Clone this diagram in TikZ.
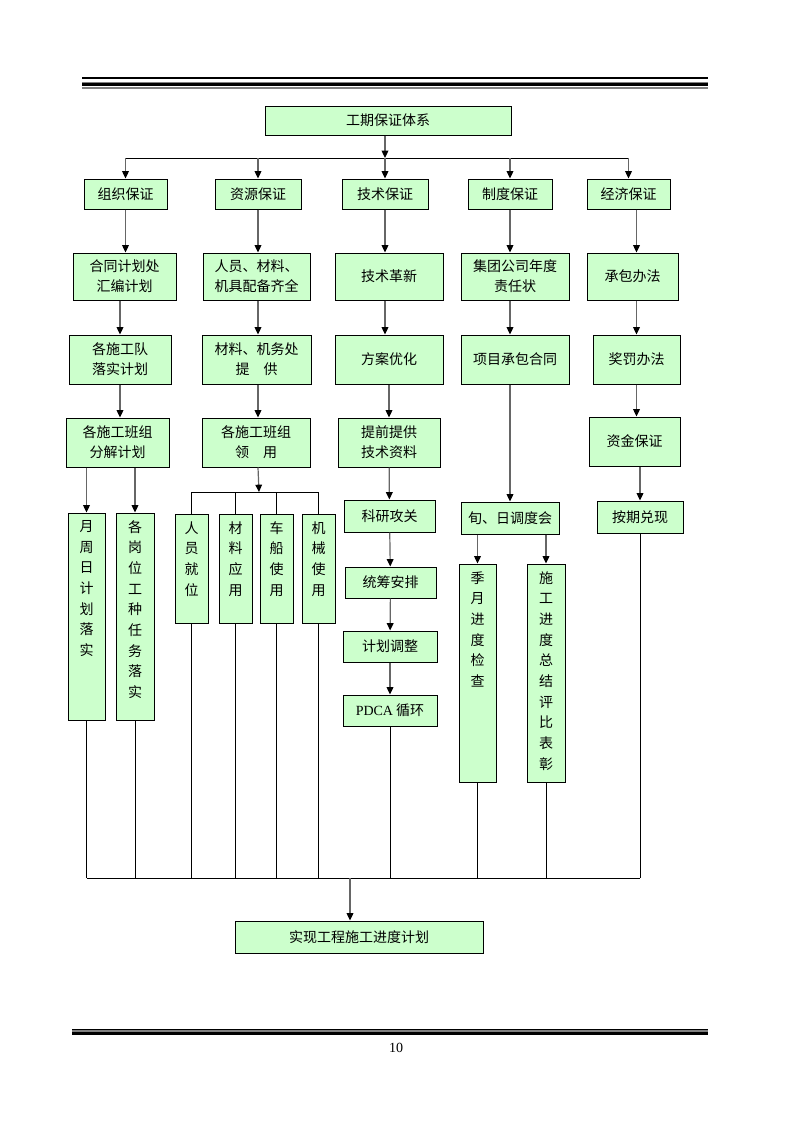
\documentclass[tikz,border=0pt]{standalone}
\usepackage{fontspec}
\setmainfont{Liberation Serif}
\newfontfamily\cjk{Noto Sans CJK SC}
\usepackage{tikz}
\usetikzlibrary{arrows.meta}
\definecolor{boxgreen}{HTML}{CCFFCC}
\definecolor{rulegray}{HTML}{808080}
\newcommand{\vtext}[2]{\parbox[c][#1][t]{1.2em}{\centering\baselineskip=15.5pt\vspace*{5.5pt}#2}}

\begin{document}
\begin{tikzpicture}[
    x=0.75pt, y=-0.75pt,
    every node/.style={font=\cjk\fontsize{10.5}{15}\selectfont},
    box/.style={
        rectangle,
        draw=black,
        fill=boxgreen,
        line width=0.75pt,
        inner sep=0pt,
        align=center
    },
    vbox/.style={box},
    arrow/.style={line width=0.9pt, draw=black!60, -{Triangle[length=5.5pt, width=5pt, color=black]}},
    link/.style={line width=0.6pt, draw=black}
]
\useasboundingbox (0,0) rectangle (793,1122);

% page rules
\fill (82,77.4) rectangle (708,78.7);
\fill[rulegray] (82,82) rectangle (708,82.8);
\fill (82,82.8) rectangle (708,86);
\fill[rulegray] (82,86.6) rectangle (708,88.8);
\fill (72,1029) rectangle (708,1030);
\fill[rulegray] (72,1030.2) rectangle (708,1031.6);
\fill (72,1031.8) rectangle (708,1035);
\node[font=\rmfamily\fontsize{10.5}{12}\selectfont] (yema) at (396,1048) {10};

\node[box, minimum width=184.5pt, minimum height=21.75pt] (tixi) at (388,120.5) {工期保证体系};

\node[box, minimum width=62.25pt, minimum height=22.5pt] (zuzhi) at (125.5,194) {组织保证};
\node[box, minimum width=64.5pt, minimum height=22.5pt] (ziyuan) at (258,194) {资源保证};
\node[box, minimum width=64.5pt, minimum height=22.5pt] (jishu) at (385,194) {技术保证};
\node[box, minimum width=63pt, minimum height=22.5pt] (zhidu) at (510,194) {制度保证};
\node[box, minimum width=62.25pt, minimum height=22.5pt] (jingji) at (628.5,194) {经济保证};

\node[box, minimum width=77.25pt, minimum height=35.25pt] (hetong) at (124.5,276.5) {合同计划处\\汇编计划};
\node[box, minimum width=80.25pt, minimum height=35.25pt] (renyuan) at (256.5,276.5) {人员、材料、\\机具配备齐全};
\node[box, minimum width=81pt, minimum height=35.25pt] (gexin) at (389,276.5) {技术革新};
\node[box, minimum width=81pt, minimum height=35.25pt] (jituan) at (515,276.5) {集团公司年度\\责任状};
\node[box, minimum width=68.25pt, minimum height=35.25pt] (chengbao) at (632.5,276.5) {承包办法};

\node[box, minimum width=76.5pt, minimum height=36.75pt] (shigongdui) at (120,359.5) {各施工队\\落实计划};
\node[box, minimum width=81.75pt, minimum height=36.75pt] (cailiao) at (256.5,359.5) {材料、机务处\\提　供};
\node[box, minimum width=81pt, minimum height=36.75pt] (fangan) at (389,359.5) {方案优化};
\node[box, minimum width=81pt, minimum height=36.75pt] (xiangmu) at (515,359.5) {项目承包合同};
\node[box, minimum width=65.25pt, minimum height=36.75pt] (jiangfa) at (636.5,359.5) {奖罚办法};

\node[box, minimum width=77.25pt, minimum height=36.75pt] (banzu) at (117.5,442.5) {各施工班组\\分解计划};
\node[box, minimum width=81pt, minimum height=36.75pt] (lingyong) at (256,442.5) {各施工班组\\领　用};
\node[box, minimum width=76.5pt, minimum height=36.75pt] (tiqian) at (389,442.5) {提前提供\\技术资料};
\node[box, minimum width=68.25pt, minimum height=36.75pt] (zijin) at (634.5,441.5) {资金保证};

\node[box, minimum width=68.25pt, minimum height=24pt] (keyan) at (389.5,516) {科研攻关};
\node[box, minimum width=73.5pt, minimum height=24pt] (xunri) at (510,518) {旬、日调度会};
\node[box, minimum width=64.5pt, minimum height=24pt] (anqi) at (640,517) {按期兑现};
\node[box, minimum width=68.25pt, minimum height=23.25pt] (tongchou) at (390.5,582.5) {统筹安排};
\node[box, minimum width=70.5pt, minimum height=23.25pt] (tiaozheng) at (390,646.5) {计划调整};
\node[box, minimum width=70.5pt, minimum height=23.25pt] (pdca) at (390,710.5) {{\rmfamily PDCA} 循环};

\node[vbox, minimum width=27.75pt, minimum height=155.25pt] (yue) at (86.5,616.5) {\vtext{155.25pt}{月\\周\\日\\计\\划\\落\\实}};
\node[vbox, minimum width=28.5pt, minimum height=155.25pt] (gangwei) at (135,616.5) {\vtext{155.25pt}{各\\岗\\位\\工\\种\\任\\务\\落\\实}};
\node[vbox, minimum width=24.75pt, minimum height=81.75pt] (renjw) at (191.5,568.5) {\vtext{81.75pt}{人\\员\\就\\位}};
\node[vbox, minimum width=24.75pt, minimum height=81.75pt] (cailiaoyy) at (235.5,568.5) {\vtext{81.75pt}{材\\料\\应\\用}};
\node[vbox, minimum width=24.75pt, minimum height=81.75pt] (chechuan) at (276.5,568.5) {\vtext{81.75pt}{车\\船\\使\\用}};
\node[vbox, minimum width=24.75pt, minimum height=81.75pt] (jixie) at (318.5,568.5) {\vtext{81.75pt}{机\\械\\使\\用}};
\node[vbox, minimum width=27.75pt, minimum height=163.5pt] (jiyue) at (477.5,673) {\vtext{163.5pt}{季\\月\\进\\度\\检\\查}};
\node[vbox, minimum width=28.5pt, minimum height=163.5pt] (zongjie) at (546,673) {\vtext{163.5pt}{施\\工\\进\\度\\总\\结\\评\\比\\表\\彰}};

\node[box, minimum width=186pt, minimum height=24pt] (shixian) at (359,937) {实现工程施工进度计划};

\coordinate (fen) at (385,158);
\coordinate (lingfen) at (259,492);
\coordinate (huizong) at (350,878);

% top split
\draw[arrow] (jishu |- tixi.south) -- (fen);
\draw[link] (zuzhi |- fen) -- (jingji |- fen);
\draw[arrow] (zuzhi |- fen) -- (zuzhi);
\draw[arrow] (ziyuan |- fen) -- (ziyuan);
\draw[arrow] (fen) -- (jishu);
\draw[arrow] (zhidu |- fen) -- (zhidu);
\draw[arrow] (jingji |- fen) -- (jingji);

% organisation
\draw[arrow] (zuzhi.south) -- (zuzhi.south |- hetong.north);
\draw[arrow] (hetong.south -| shigongdui) -- (shigongdui);
\draw[arrow] (shigongdui.south) -- (shigongdui.south |- banzu.north);
\draw[arrow] (banzu.south -| yue) -- (yue);
\draw[arrow] (banzu.south -| gangwei) -- (gangwei);

% resources
\draw[arrow] (ziyuan.south) -- (ziyuan.south |- renyuan.north);
\draw[arrow] (renyuan.south -| ziyuan) -- (cailiao.north -| ziyuan);
\draw[arrow] (cailiao.south -| ziyuan) -- (lingyong.north -| ziyuan);
\draw[arrow] (lingyong.south -| ziyuan) -- (lingfen);
\draw[link] (renjw |- lingfen) -- (jixie |- lingfen);
\draw[link] (renjw |- lingfen) -- (renjw);
\draw[link] (cailiaoyy |- lingfen) -- (cailiaoyy);
\draw[link] (chechuan |- lingfen) -- (chechuan);
\draw[link] (jixie |- lingfen) -- (jixie);

% technology
\draw[arrow] (jishu.south) -- (jishu.south |- gexin.north);
\draw[arrow] (gexin.south -| jishu) -- (fangan.north -| jishu);
\draw[arrow] (fangan) -- (tiqian);
\draw[arrow] (tiqian) -- (keyan);
\draw[arrow] (keyan) -- (tongchou);
\draw[arrow] (tongchou) -- (tiaozheng);
\draw[arrow] (tiaozheng) -- (pdca);

% system
\draw[arrow] (zhidu.south) -- (zhidu.south |- jituan.north);
\draw[arrow] (jituan.south -| zhidu) -- (xiangmu.north -| zhidu);
\draw[arrow] (xiangmu.south -| zhidu) -- (xunri);
\draw[arrow] (xunri.south -| jiyue) -- (jiyue);
\draw[arrow] (xunri.south -| zongjie) -- (zongjie);

% economy
\draw[arrow] (jingji.south -| jiangfa) -- (chengbao.north -| jiangfa);
\draw[arrow] (chengbao.south -| jiangfa) -- (jiangfa);
\draw[arrow] (jiangfa.south) -- (zijin.north -| jiangfa);
\draw[arrow] (zijin.south -| anqi) -- (anqi);

% collect
\draw[link] (yue |- huizong) -- (anqi |- huizong);
\draw[link] (yue) -- (yue |- huizong);
\draw[link] (gangwei) -- (gangwei |- huizong);
\draw[link] (renjw) -- (renjw |- huizong);
\draw[link] (cailiaoyy) -- (cailiaoyy |- huizong);
\draw[link] (chechuan) -- (chechuan |- huizong);
\draw[link] (jixie) -- (jixie |- huizong);
\draw[link] (pdca) -- (pdca |- huizong);
\draw[link] (jiyue) -- (jiyue |- huizong);
\draw[link] (zongjie) -- (zongjie |- huizong);
\draw[link] (anqi) -- (anqi |- huizong);
\draw[arrow] (huizong) -- (huizong |- shixian.north);

\end{tikzpicture}
\end{document}
